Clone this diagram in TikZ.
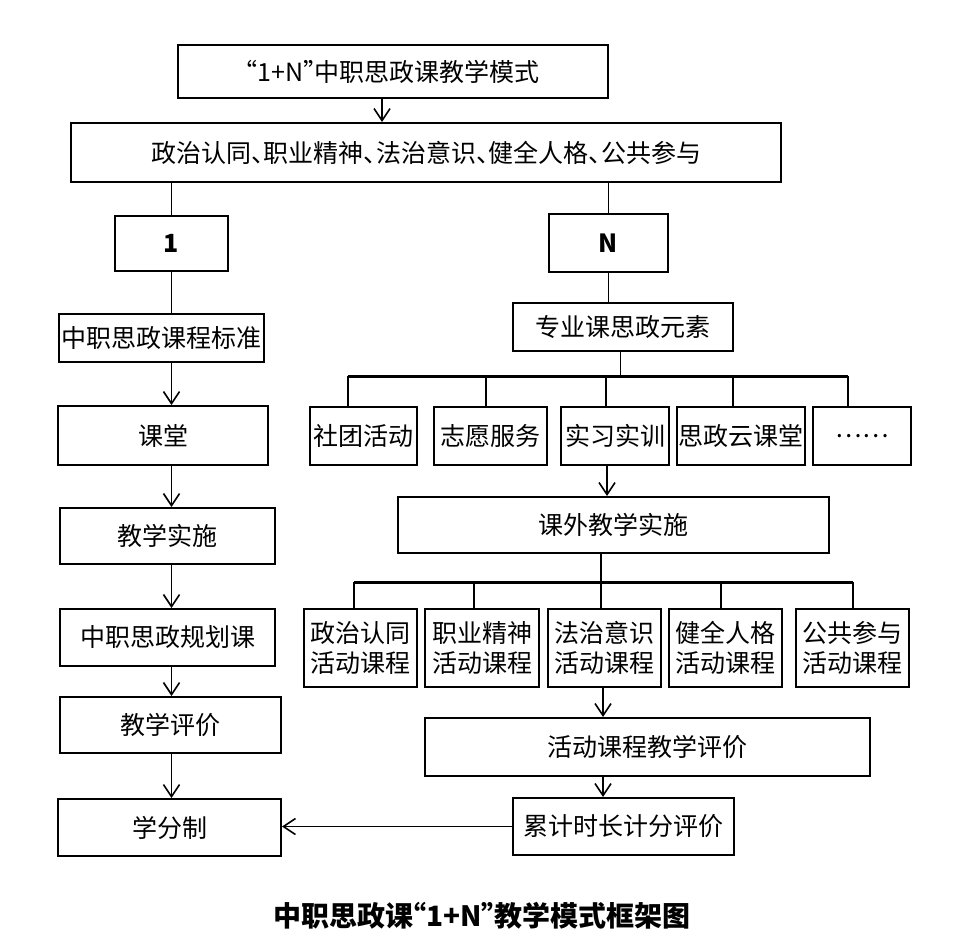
\documentclass[tikz,border=0pt]{standalone}
\usepackage{fontspec}
\setmainfont{Noto Sans CJK SC}
\usetikzlibrary{positioning,calc,arrows.meta}
% narrow CJK punctuation
\newcommand{\dunhao}{\makebox[0.5em][l]{、}}
\newcommand{\qopen}{\makebox[0.45em][r]{“}}
\newcommand{\qclose}{\makebox[0.45em][l]{”}}

\begin{document}
\begin{tikzpicture}[x=1pt, y=-1pt,
  box/.style={draw=black, line width=2pt, fill=white,
             inner sep=0pt, align=center, font=\fontsize{25}{30}\selectfont},
  link/.style={line width=1.6pt, black},
  arr/.style={line width=1.6pt, black, -{Straight Barb[length=12pt, width=16pt, line width=1.6pt]}},
  bus/.style={line width=3pt, black},
]
\useasboundingbox (0,0) rectangle (957,945);

% trunk
\node[box, minimum width=430pt, minimum height=53pt] (top)  at (393, 71.5) {\qopen1+N\qclose 中职思政课教学模式};
\node[box, minimum width=710pt, minimum height=59pt] (core) at (426, 152.5)
  {政治认同\dunhao 职业精神\dunhao 法治意识\dunhao 健全人格\dunhao 公共参与};
\node[box, minimum width=113pt, minimum height=55pt] (one)  at (171.5, 243.5) {\bfseries 1};
\node[box, minimum width=119pt, minimum height=58pt] (enn)  at (608.5, 243) {\bfseries N};
\draw[arr] ([xshift=-11pt]top.south) -- ([xshift=-11pt]top.south |- core.north);
\draw[link] (one.north |- core.south) -- (one.north);
\draw[link] (enn.north |- core.south) -- (enn.north);

% left column: "1"
\node[box, minimum width=205pt, minimum height=48pt] (std)     at (161.5, 338)   {中职思政课程标准};
\node[box, minimum width=210pt, minimum height=59pt] (ketang)  at (163, 435.5)   {课堂};
\node[box, minimum width=215pt, minimum height=56pt] (shishi)  at (167.5, 536)   {教学实施};
\node[box, minimum width=215pt, minimum height=57pt] (guihua)  at (167.5, 637.5) {中职思政规划课};
\node[box, minimum width=221pt, minimum height=56pt] (pingjia) at (170.5, 725)   {教学评价};
\node[box, minimum width=223pt, minimum height=57pt] (xuefen)  at (169.5, 827.5) {学分制};
\draw[link] (one.south) -- (one.south |- std.north);
\draw[arr] (one.south |- std.south)     -- (one.south |- ketang.north);
\draw[arr] (one.south |- ketang.south)  -- (one.south |- shishi.north);
\draw[arr] (one.south |- shishi.south)  -- (one.south |- guihua.north);
\draw[arr] (one.south |- guihua.south)  -- (one.south |- pingjia.north);
\draw[arr] (one.south |- pingjia.south) -- (one.south |- xuefen.north);

% right column: "N"
\node[box, minimum width=220pt, minimum height=48pt] (elem) at (623, 327) {专业课思政元素};
\draw[link] (enn.south) -- (enn.south |- elem.north);
\coordinate (busA) at (0, 376);
\coordinate (busB) at (0, 582);

\node[box, minimum width=107pt, minimum height=58pt] (st)   at (363.5, 436) {社团活动};
\node[box, minimum width=113pt, minimum height=58pt] (zy)   at (490.5, 436) {志愿服务};
\node[box, minimum width=108pt, minimum height=58pt] (sx)   at (615, 436)   {实习实训};
\node[box, minimum width=128pt, minimum height=58pt] (yk)   at (741, 436)   {思政云课堂};
\node[box, minimum width=98pt,  minimum height=58pt] (dots) at (862, 436)   {……};
\draw[link] ([xshift=-2.5pt]elem.south) -- ([xshift=-2.5pt]elem.south |- busA);
\draw[bus] ([xshift=-15.5pt]st.north |- busA) -- ([xshift=-14pt]dots.north |- busA);
\foreach \n/\dx in {st/-15.5, zy/-4.5, sx/-9, yk/-8, dots/-14}
  \draw[link] ([xshift=\dx pt]\n.north |- busA) -- ([xshift=\dx pt]\n.north);

\node[box, minimum width=431pt, minimum height=56pt] (kw) at (613.5, 525) {课外教学实施};
\draw[arr] ([xshift=-8pt]sx.south) -- ([xshift=-8pt]sx.south |- kw.north);

\node[box, minimum width=113pt, minimum height=78pt] (zz) at (360.5, 648) {政治认同\\活动课程};
\node[box, minimum width=114pt, minimum height=78pt] (zj) at (482, 648)   {职业精神\\活动课程};
\node[box, minimum width=113pt, minimum height=78pt] (fz) at (604.5, 648) {法治意识\\活动课程};
\node[box, minimum width=113pt, minimum height=78pt] (jq) at (725.5, 648) {健全人格\\活动课程};
\node[box, minimum width=113pt, minimum height=78pt] (gg) at (852.5, 648) {公共参与\\活动课程};
\draw[link] ([xshift=-12.5pt]kw.south) -- ([xshift=-12.5pt]kw.south |- busB);
\draw[bus] ([xshift=-6.5pt]zz.north |- busB) -- ([xshift=0.5pt]gg.north |- busB);
\foreach \n/\dx in {zz/-6.5, zj/-8, fz/-3.5, jq/-4.5, gg/0.5}
  \draw[link] ([xshift=\dx pt]\n.north |- busB) -- ([xshift=\dx pt]\n.north);

\node[box, minimum width=445pt, minimum height=58pt] (hp) at (647.5, 747) {活动课程教学评价};
\node[box, minimum width=221pt, minimum height=57pt] (lj) at (623.5, 826.5) {累计时长计分评价};
\draw[arr] ([xshift=-1.5pt]fz.south) -- ([xshift=-1.5pt]fz.south |- hp.north);
\draw[arr] ([xshift=-1.5pt]fz.south |- hp.south) -- ([xshift=-1.5pt]fz.south |- lj.north);
\draw[arr] (lj.west) -- (lj.west -| xuefen.east);

\node[font=\fontsize{28}{32}\selectfont\bfseries] (title) at (482, 916) {中职思政课\qopen1+N\qclose 教学模式框架图};
\end{tikzpicture}
\end{document}
